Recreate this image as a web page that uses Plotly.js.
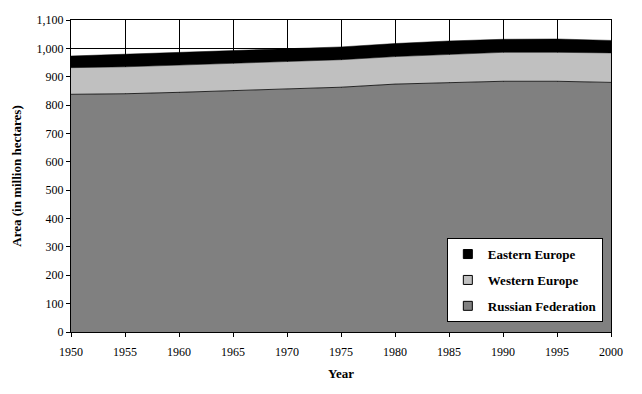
<!DOCTYPE html>
<html>
<head>
<meta charset="utf-8">
<script src="https://cdn.plot.ly/plotly-3.0.1.min.js"></script>
<style>html,body{margin:0;padding:0;background:#fff;}#chart{width:642px;height:394px;}</style>
</head>
<body>
<div id="chart"></div>
<script>
const years = [1950, 1955, 1960, 1965, 1970, 1975, 1980, 1985, 1990, 1995, 2000];
const russianFederation = [838, 840, 845, 850, 857, 863, 874, 879, 884, 884, 880];
const westernEurope = [94, 95, 96, 97, 95, 97, 97, 100, 102, 102, 104];
const easternEurope = [41, 44, 44, 45, 46, 45, 46, 47, 46, 47, 44];
const xTicks = [1950, 1955, 1960, 1965, 1970, 1975, 1980, 1985, 1990, 1995, 2000];
const seriesNames = ['Russian Federation', 'Western Europe', 'Eastern Europe'];
const seriesColors = ['#808080', '#C0C0C0', '#000000'];

const FAM = 'Liberation Serif, Times New Roman, serif';
const font = {family: FAM, size: 12, color: '#000'};
const seriesValues = [russianFederation, westernEurope, easternEurope];

const traces = [];
seriesValues.forEach((vals, i) => {
  traces.push({name: seriesNames[i], x: years, y: vals, stackgroup: 'a', mode: 'lines',
    line: {color: '#000', width: i === 0 ? 0.8 : 0.5}, fillcolor: seriesColors[i], showlegend: false});
});
[2, 1, 0].forEach(i => {
  traces.push({name: seriesNames[i], x: [null], y: [null], mode: 'markers', type: 'scatter',
    marker: {symbol: 'square', size: 9, color: seriesColors[i], line: {color: '#000', width: 1}},
    legendgroup: 'g' + i, showlegend: true});
});

const layout = {
  width: 642, height: 394,
  margin: {l: 71, r: 31, t: 20, b: 62},
  paper_bgcolor: '#fff', plot_bgcolor: '#fff',
  font: font,
  showlegend: true,
  legend: {
    x: 0.696, y: 0.301, xanchor: 'left', yanchor: 'top',
    bgcolor: '#fff', bordercolor: '#000', borderwidth: 1,
    traceorder: 'grouped', tracegroupgap: 6, itemwidth: 30,
    font: {family: FAM, size: 13, color: '#000', weight: 'bold'}
  },
  xaxis: {
    range: [1950, 2000], tickvals: xTicks, ticktext: xTicks.map(String),
    showline: true, linecolor: '#000', linewidth: 1, mirror: true,
    ticks: 'outside', ticklen: 4, tickcolor: '#000', ticklabelstandoff: 5,
    tickfont: {family: FAM, size: 12, color: '#000'},
    showgrid: true, gridcolor: '#000', gridwidth: 1, zeroline: false,
    title: {text: '<b>Year</b>', font: {family: FAM, size: 13, color: '#000'}, standoff: 10}
  },
  yaxis: {
    range: [0, 1100], dtick: 100, tick0: 0, tickformat: ',d',
    showline: true, linecolor: '#000', linewidth: 1, mirror: true,
    ticks: 'outside', ticklen: 4, tickcolor: '#000',
    tickfont: {family: FAM, size: 12, color: '#000'},
    showgrid: true, gridcolor: '#000', gridwidth: 1, zeroline: false,
    title: {text: '<b>Area (in million hectares)</b>', font: {family: FAM, size: 13, color: '#000'}, standoff: 12}
  }
};

Plotly.newPlot('chart', traces, layout, {displayModeBar: false, staticPlot: true});
</script>
</body>
</html>
